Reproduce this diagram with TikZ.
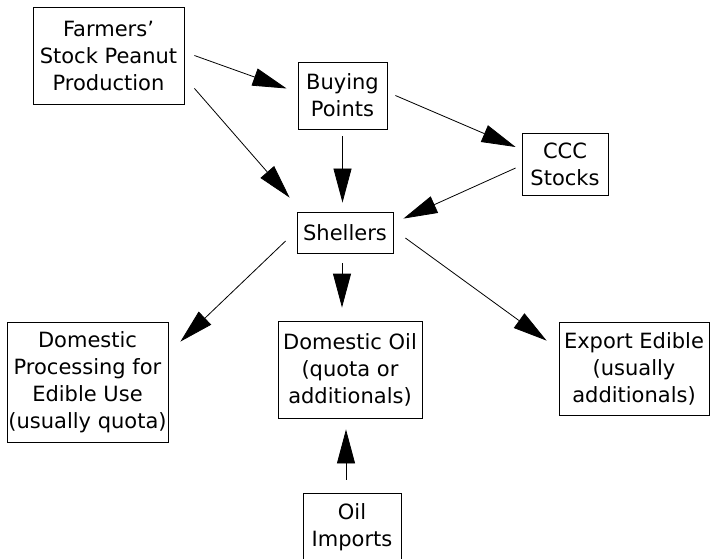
\documentclass[tikz,border=0pt]{standalone}
\usepackage{fontspec}
\setmainfont{DejaVu Sans}
\usetikzlibrary{arrows.meta}

\tikzset{
  unit/.style={draw, line width=0.8pt, inner sep=0pt, align=center,
    font=\fontsize{21}{27}\selectfont},
  flow/.style={line width=0.8pt, -{Triangle[length=34pt,width=18pt]}}
}

\begin{document}
\begin{tikzpicture}[x=1pt,y=-1pt]
      \useasboundingbox (0,0) rectangle (710,559);
      \clip (0,0) rectangle (710,559);
      \def \Units {
        farm/108.5/55.5/151/97/{Farmers'\\Stock Peanut\\Production},
        buy/342.5/95.5/89/67/{Buying\\Points},
        ccc/565/164/86/62/{CCC\\Stocks},
        shell/345/232.5/96/41/{Shellers},
        proc/87.5/382/161/120/{Domestic\\Processing for\\Edible Use\\(usually quota)},
        oil/350/369.5/144/97/{Domestic Oil\\(quota or\\additionals)},
        export/634/368.5/150/93/{Export Edible\\(usually\\additionals)},
        imp/352/527.5/98/69/{Oil\\Imports}}

      \foreach \id / \x / \y / \w / \h / \txt in \Units {
        \node[unit, minimum width=\w pt, minimum height=\h pt] (\id) at (\x, \y) {\txt};
      }

      \draw[flow] ([xshift=10pt]farm.east) -- ([xshift=-11pt,yshift=7pt]buy.west);
      \draw[flow] ([xshift=10pt,yshift=16pt]farm.south east) -- ([xshift=-7pt,yshift=14pt]shell.north west);
      \draw[flow, shorten <=7pt, shorten >=9pt] (buy.south) -- (buy.south |- shell.north);
      \draw[flow] ([xshift=8pt]buy.east) -- ([xshift=-6pt,yshift=17pt]ccc.west);
      \draw[flow] ([xshift=-6pt,yshift=-4pt]ccc.west) -- ([xshift=10pt,yshift=-7pt]shell.north east);
      \draw[flow] ([xshift=-11pt,yshift=-8.5pt]shell.west) -- ([xshift=12pt,yshift=-20pt]proc.north east);
      \draw[flow, shorten <=10pt, shorten >=13pt] ([xshift=-3pt]shell.south) -- ([xshift=-3pt]shell.south |- oil.north);
      \draw[flow] ([xshift=12pt,yshift=-5.5pt]shell.east) -- ([xshift=-12pt,yshift=-19pt]export.north west);
      \draw[flow, shorten <=13pt, shorten >=11pt] ([xshift=-6pt]imp.north) -- ([xshift=-6pt]imp.north |- oil.south);
    \end{tikzpicture}
\end{document}
